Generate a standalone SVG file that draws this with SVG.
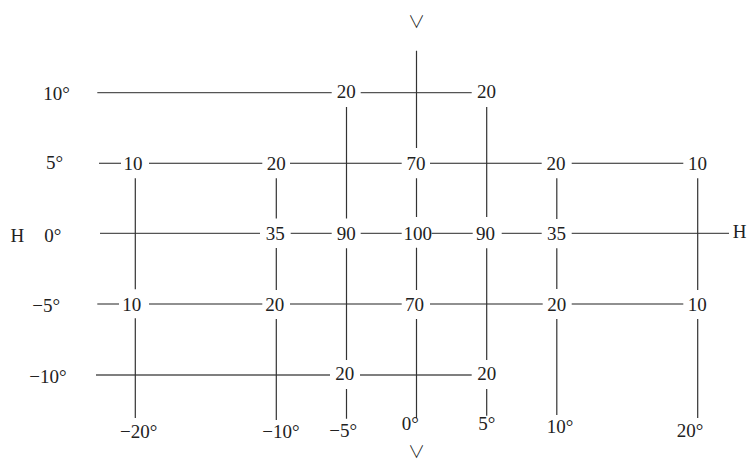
<svg xmlns="http://www.w3.org/2000/svg" width="747" height="463" viewBox="0 0 747 463">
<style>
text{font-family:"Liberation Serif","Times New Roman",serif;font-size:19px;fill:#222}
.v{text-anchor:middle}
.axis{font-family:"DejaVu Sans","Noto Sans CJK SC",sans-serif;font-size:17px;font-weight:200}
.hd{stroke:#222;stroke-width:1.1;fill:none}
.hg{stroke:#555;stroke-width:1.3;fill:none}
.vl{stroke:#333;stroke-width:1.2;fill:none}
</style>
<rect width="747" height="463" fill="#fff"/>
<g id="connectors">
<path class="hg" d="M97.3 92.7H331.7M360.7 92.7H471.7"/>
<path class="hd" d="M99 163.3H121M149 163.3H262.3M290 163.3H401.7M430 163.3H541.7M571.7 163.3H683.3"/>
<path class="hg" d="M100 233.3H260M290.7 233.3H331.7M360.7 233.3H401.7M431.7 233.3H472.7M501.7 233.3H541.7M571.7 233.3H729"/>
<path class="hd" d="M97.3 304H119M149 304H262.3M290 304H401.7M430 304H542.7M571.7 304H683.3"/>
<path class="hg" d="M96 375H330M360 375H471.7"/>
<path class="vl" d="M135.3 178.3V289.3M135.3 318.3V418"/>
<path class="vl" d="M276.3 178.3V218.5M276.3 248V290M276.3 319V420"/>
<path class="vl" d="M346.5 107V218.5M346.5 248.3V360M346.5 389V418.7"/>
<path class="vl" d="M416.5 50.7V148M416.5 178.3V217M416.5 247.7V290M416.5 319V418"/>
<path class="vl" d="M486.7 107V217M486.7 248.3V360M486.7 389V415.7"/>
<path class="vl" d="M556.8 178.3V219M556.8 248.3V289M556.8 319V415"/>
<path class="vl" d="M697.7 178.3V290M697.7 319V418"/>
</g>
<g id="axis-labels">
<text class="v axis" x="416.5" y="28">∨</text>
<text class="v axis" x="416.5" y="458">∨</text>
<text x="10.5" y="242">H</text>
<text x="732.8" y="238">H</text>
</g>
<g id="row-labels">
<text x="43.3" y="100">10°</text>
<text x="46" y="169">5°</text>
<text x="44.3" y="242">0°</text>
<text x="32.3" y="311.7">−5°</text>
<text x="29.3" y="383">−10°</text>
</g>
<g id="column-labels">
<text x="120" y="438">−20°</text>
<text x="262.3" y="438">−10°</text>
<text x="329.3" y="436.7">−5°</text>
<text x="401.7" y="430">0°</text>
<text x="478.3" y="430">5°</text>
<text x="546.7" y="433.3">10°</text>
<text x="676.7" y="436.7">20°</text>
</g>
<g id="values">
<g id="n-10-m5"><text class="v" x="346.3" y="97.5">20</text></g>
<g id="n-10-p5"><text class="v" x="486.5" y="97.5">20</text></g>
<g id="n-5-m20"><text class="v" x="133" y="170">10</text></g>
<g id="n-5-m10"><text class="v" x="276.3" y="170">20</text></g>
<g id="n-5-0"><text class="v" x="416" y="170">70</text></g>
<g id="n-5-p10"><text class="v" x="556" y="170">20</text></g>
<g id="n-5-p20"><text class="v" x="697.5" y="170">10</text></g>
<g id="n-0-m10"><text class="v" x="275.3" y="240">35</text></g>
<g id="n-0-m5"><text class="v" x="346.3" y="240">90</text></g>
<g id="n-0-0"><text class="v" x="417.8" y="240">100</text></g>
<g id="n-0-p5"><text class="v" x="485.5" y="240">90</text></g>
<g id="n-0-p10"><text class="v" x="556.5" y="240">35</text></g>
<g id="n-m5-m20"><text class="v" x="131.7" y="311">10</text></g>
<g id="n-m5-m10"><text class="v" x="274.7" y="311">20</text></g>
<g id="n-m5-0"><text class="v" x="414.5" y="311">70</text></g>
<g id="n-m5-p10"><text class="v" x="556.7" y="311">20</text></g>
<g id="n-m5-p20"><text class="v" x="697.3" y="311">10</text></g>
<g id="n-m10-m5"><text class="v" x="344.7" y="380">20</text></g>
<g id="n-m10-p5"><text class="v" x="486.7" y="380">20</text></g>
</g>
</svg>
